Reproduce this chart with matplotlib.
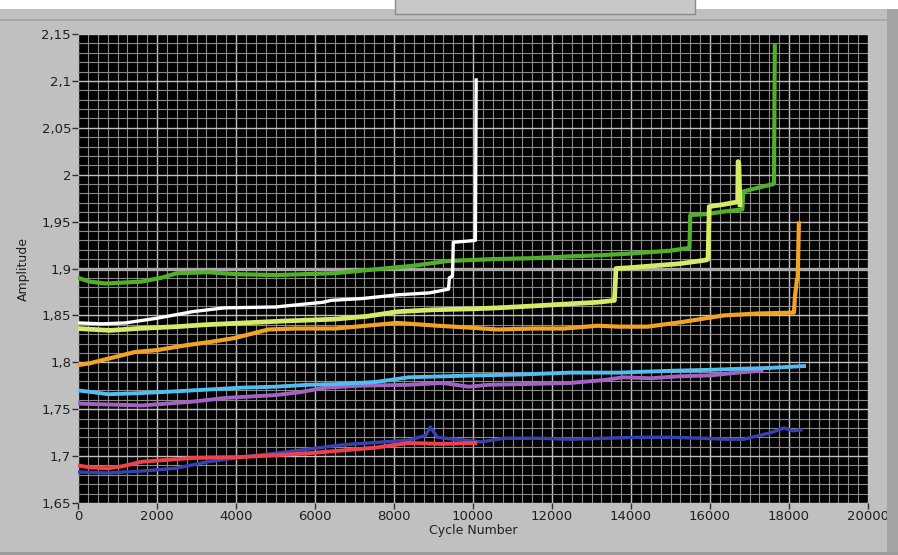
import matplotlib
matplotlib.use("Agg")
import matplotlib.pyplot as plt
from matplotlib.ticker import FixedLocator, FixedFormatter, MultipleLocator
from matplotlib.patches import Rectangle

# axis ticks (LabVIEW style, comma decimals)
y_ticks = [1.65, 1.7, 1.75, 1.8, 1.85, 1.9, 1.95, 2.0, 2.05, 2.1, 2.15]
y_labels = ["1,65", "1,7", "1,75", "1,8", "1,85", "1,9", "1,95", "2", "2,05", "2,1", "2,15"]
x_ticks = [0, 2000, 4000, 6000, 8000, 10000, 12000, 14000, 16000, 18000, 20000]

# series
green_x = [0, 300, 700, 1600, 2100, 2500, 3300, 4000, 5000, 6500, 7500, 8500, 9350, 10500,
           11500, 12500, 13150, 14000, 15000, 15480, 15500, 15900, 16400, 16820, 16840, 17200,
           17600, 17620, 17640]
green_y = [1.890, 1.886, 1.884, 1.886, 1.890, 1.895, 1.896, 1.894, 1.893, 1.895, 1.899, 1.903,
           1.908, 1.910, 1.911, 1.913, 1.914, 1.916, 1.919, 1.922, 1.957, 1.958, 1.961, 1.963,
           1.982, 1.986, 1.990, 1.991, 2.137]

white_x = [0, 600, 1200, 2000, 2900, 3700, 5000, 6200, 6400, 7200, 8100, 8900, 9260, 9380,
           9400, 9480, 9500, 9800, 10060, 10080]
white_y = [1.842, 1.841, 1.842, 1.847, 1.854, 1.858, 1.859, 1.864, 1.866, 1.868, 1.872, 1.874,
           1.877, 1.878, 1.890, 1.892, 1.928, 1.929, 1.930, 2.101]

yellow_x = [0, 400, 800, 1500, 2500, 3200, 4200, 5200, 6500, 7300, 8100, 9000, 10000, 10600,
            11500, 12300, 13150, 13580, 13620, 14000, 14600, 15200, 15900, 15950, 15980, 16300,
            16700, 16710, 16730, 16760]
yellow_y = [1.836, 1.835, 1.834, 1.836, 1.838, 1.840, 1.842, 1.844, 1.846, 1.849, 1.854, 1.856,
            1.857, 1.858, 1.860, 1.862, 1.864, 1.866, 1.900, 1.901, 1.903, 1.905, 1.909, 1.910,
            1.966, 1.968, 1.971, 2.014, 2.012, 1.968]

orange_x = [0, 300, 1445, 2000, 2710, 3400, 3980, 4820, 5500, 6510, 7300, 8080, 9100, 9900,
            10620, 11500, 12300, 13150, 13700, 14420, 15300, 16350, 17200, 18125, 18150, 18200,
            18220, 18250]
orange_y = [1.797, 1.799, 1.811, 1.813, 1.818, 1.822, 1.826, 1.835, 1.836, 1.836, 1.839, 1.842,
            1.839, 1.837, 1.835, 1.836, 1.836, 1.839, 1.838, 1.838, 1.843, 1.850, 1.852, 1.853,
            1.870, 1.888, 1.890, 1.948]

cyan_x = [0, 400, 760, 1500, 2460, 3300, 4160, 5000, 5830, 6700, 7530, 8370, 9200, 10060,
          11200, 12470, 13700, 15010, 16000, 16700, 17500, 18380]
cyan_y = [1.770, 1.768, 1.766, 1.767, 1.769, 1.771, 1.773, 1.774, 1.776, 1.777, 1.779, 1.784,
          1.785, 1.786, 1.787, 1.789, 1.789, 1.791, 1.792, 1.793, 1.794, 1.796]

purple_x = [0, 800, 1620, 2890, 3730, 4990, 5600, 6260, 7100, 8370, 9230, 9890, 10400, 11500,
            12470, 13300, 13800, 14500, 15200, 16000, 16700, 17300]
purple_y = [1.756, 1.755, 1.754, 1.758, 1.762, 1.765, 1.768, 1.773, 1.775, 1.776, 1.778, 1.774,
            1.776, 1.777, 1.778, 1.781, 1.784, 1.783, 1.785, 1.786, 1.789, 1.791]

red_x = [0, 300, 760, 1100, 1620, 2890, 4160, 5830, 7530, 8370, 9200, 10060]
red_y = [1.690, 1.688, 1.687, 1.689, 1.694, 1.698, 1.699, 1.703, 1.709, 1.714, 1.713, 1.714]

blue_x = [0, 760, 1600, 2460, 3300, 4160, 4990, 6690, 8370, 8800, 8920, 9100, 9500, 10060,
          10190, 10780, 11600, 12470, 13300, 14170, 15000, 15850, 16400, 16860, 17540, 17870,
          18100, 18300]
blue_y = [1.683, 1.682, 1.684, 1.687, 1.694, 1.699, 1.703, 1.712, 1.717, 1.722, 1.731, 1.720,
          1.718, 1.716, 1.715, 1.719, 1.719, 1.718, 1.719, 1.720, 1.720, 1.719, 1.718, 1.718,
          1.725, 1.730, 1.727, 1.728]

fig = plt.figure(figsize=(8.98, 5.55), dpi=100, facecolor="#c0c0c0")

# window chrome around the graph
fig.patches.append(Rectangle((0, 0.983), 1, 0.017, transform=fig.transFigure,
                             facecolor="white", edgecolor="none"))
fig.patches.append(Rectangle((0.44, 0.975), 0.334, 0.03, transform=fig.transFigure,
                             facecolor="#c8c8c8", edgecolor="#8a8a8a", lw=1))
fig.patches.append(Rectangle((0, 0.962), 1, 0.004, transform=fig.transFigure,
                             facecolor="#a8a8a8", edgecolor="none"))
fig.patches.append(Rectangle((0.988, 0), 0.012, 0.983, transform=fig.transFigure,
                             facecolor="#a4a4a4", edgecolor="none"))
fig.patches.append(Rectangle((0, 0), 1, 0.006, transform=fig.transFigure,
                             facecolor="#9c9c9c", edgecolor="none"))

ax = fig.add_axes([0.0869, 0.0937, 0.8797, 0.845])
ax.set_facecolor("black")

ax.set_xlim(0, 20000)
ax.set_ylim(1.65, 2.15)
ax.xaxis.set_major_locator(FixedLocator(x_ticks))
ax.xaxis.set_minor_locator(MultipleLocator(250))
ax.yaxis.set_major_locator(FixedLocator(y_ticks))
ax.yaxis.set_major_formatter(FixedFormatter(y_labels))
ax.yaxis.set_minor_locator(MultipleLocator(0.01))

ax.grid(which="major", color="#c0c0c0", lw=1.0)
ax.grid(which="minor", color="#8a8a8a", lw=0.8)
ax.set_axisbelow(True)
ax.axhline(1.9, color="#a8a8a8", lw=2.4, zorder=1.5)

ax.plot(blue_x, blue_y, color="#3542b4", lw=2.4, zorder=2)
ax.plot(red_x, red_y, color="#f0404c", lw=2.8, zorder=2)
ax.plot(purple_x, purple_y, color="#a363c4", lw=2.8, zorder=2)
ax.plot(cyan_x, cyan_y, color="#52bdf0", lw=2.8, zorder=2)
ax.plot(orange_x, orange_y, color="#f2a324", lw=3.0, zorder=2)
ax.plot(green_x, green_y, color="#50b02a", lw=3.0, zorder=2)
ax.plot(yellow_x, yellow_y, color="#d6ea6a", lw=3.4, zorder=2)
ax.plot(white_x, white_y, color="white", lw=2.4, zorder=2)

for s in ax.spines.values():
    s.set_visible(False)

ax.tick_params(which="major", direction="out", length=4, width=1, color="#303030",
               labelsize=9.5, labelcolor="#202020", pad=1)
ax.tick_params(which="minor", length=0)

ax.set_xlabel("Cycle Number", fontsize=9, color="#202020", labelpad=1)
ax.set_ylabel("Amplitude", fontsize=9, color="#202020", labelpad=8)

fig.savefig("out.png", dpi=100, facecolor=fig.get_facecolor())
